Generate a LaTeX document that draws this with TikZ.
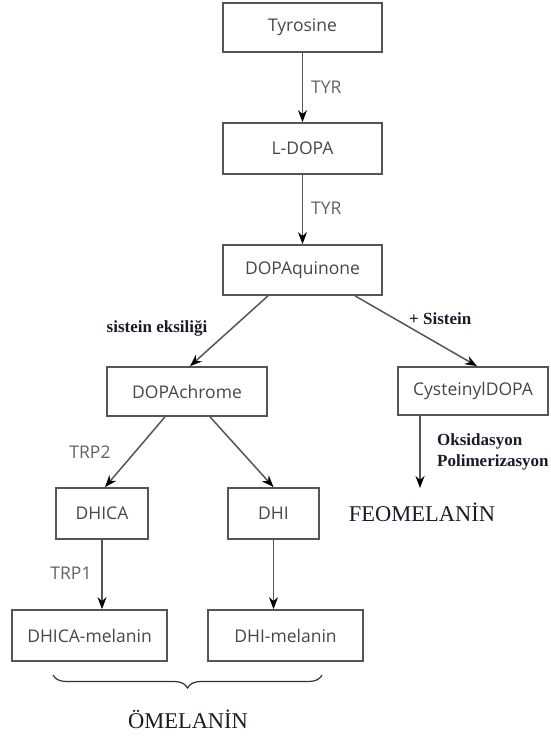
\documentclass[tikz,border=0pt]{standalone}
\usepackage{fontspec}
\setmainfont{Liberation Serif}
\newfontfamily\boxfont{Open Sans}
\usetikzlibrary{arrows.meta,decorations.pathreplacing}
\definecolor{boxtext}{HTML}{45464E}
\definecolor{edgegray}{HTML}{555555}
\definecolor{serifink}{HTML}{1A1A2A}
\begin{document}
\begin{tikzpicture}[x=1pt,y=-1pt,
  stepbox/.style={draw=edgegray,line width=1.7pt,rectangle,inner sep=0pt,
    font=\boxfont\fontsize{17.5}{20}\selectfont,text=boxtext},
  conn/.style={draw=edgegray,line width=1.5pt,-{Stealth[length=12pt,width=9pt,black]}},
  enz/.style={font=\boxfont\fontsize{17.5}{20}\selectfont,text=boxtext!85,inner sep=0pt},
  trlab/.style={font=\bfseries\fontsize{17}{21}\selectfont,text=serifink,inner sep=0pt},
  biglab/.style={font=\fontsize{22.5}{26}\selectfont,text=serifink,inner sep=0pt}]
\useasboundingbox (0,0) rectangle (550,738);
\node[stepbox,minimum width=159pt,minimum height=49pt] (tyr) at (302.5,27.5) {Tyrosine};
\node[stepbox,minimum width=159pt,minimum height=51pt] (ldopa) at (302.5,148.5) {L-DOPA};
\node[stepbox,minimum width=159pt,minimum height=50pt] (dq) at (302.5,270) {DOPAquinone};
\node[stepbox,minimum width=160pt,minimum height=49pt] (dc) at (187,391.5) {DOPAchrome};
\node[stepbox,minimum width=150pt,minimum height=48pt] (cys) at (473,391) {CysteinylDOPA};
\node[stepbox,minimum width=92pt,minimum height=51pt] (dhica) at (102,513.5) {DHICA};
\node[stepbox,minimum width=91pt,minimum height=51pt] (dhi) at (273.5,513.5) {DHI};
\node[stepbox,minimum width=155pt,minimum height=51pt] (dhicam) at (89.5,635.5) {DHICA-melanin};
\node[stepbox,minimum width=155pt,minimum height=51pt] (dhim) at (285.5,635.5) {DHI-melanin};
\coordinate (feoend) at (420,488);

\draw[conn] (tyr) -- (ldopa);
\draw[conn] (ldopa) -- (dq);
\draw[conn] ([xshift=-34.5pt]dq.south) -- ([xshift=3pt]dc.north);
\draw[conn] ([xshift=52.5pt]dq.south) -- ([xshift=4pt]cys.north);
\draw[conn] ([xshift=-22pt]dc.south) -- ([xshift=3pt]dhica.north);
\draw[conn] ([xshift=23pt]dc.south) -- (dhi.north);
\draw[conn] (dhica) -- (dhica.south |- dhicam.north);
\draw[conn] (dhi) -- (dhi.south |- dhim.north);
\draw[conn] (cys.south -| feoend) -- (feoend);

\node[enz,anchor=west] (tyr1) at (311,87) {TYR};
\node[enz,anchor=west] (tyr2) at (311,208) {TYR};
\node[enz] (trp2) at (90,452) {TRP2};
\node[enz] (trp1) at (71,573) {TRP1};
\node[trlab] (eks) at (157,328) {sistein eksiliği};
\node[trlab,anchor=west] (sis) at (409,319) {+ Sistein};
\node[trlab,anchor=west,align=left] (oks) at (437,452) {Oksidasyon\\Polimerizasyon};
\node[biglab] (feo) at (422,512) {FEOMELANİN};
\node[biglab] (om) at (188,719) {ÖMELANİN};
\draw[draw=black!80,line width=1.2pt,decorate,decoration={brace,amplitude=13pt,mirror}] (53,675) -- (322,675);
\end{tikzpicture}
\end{document}
